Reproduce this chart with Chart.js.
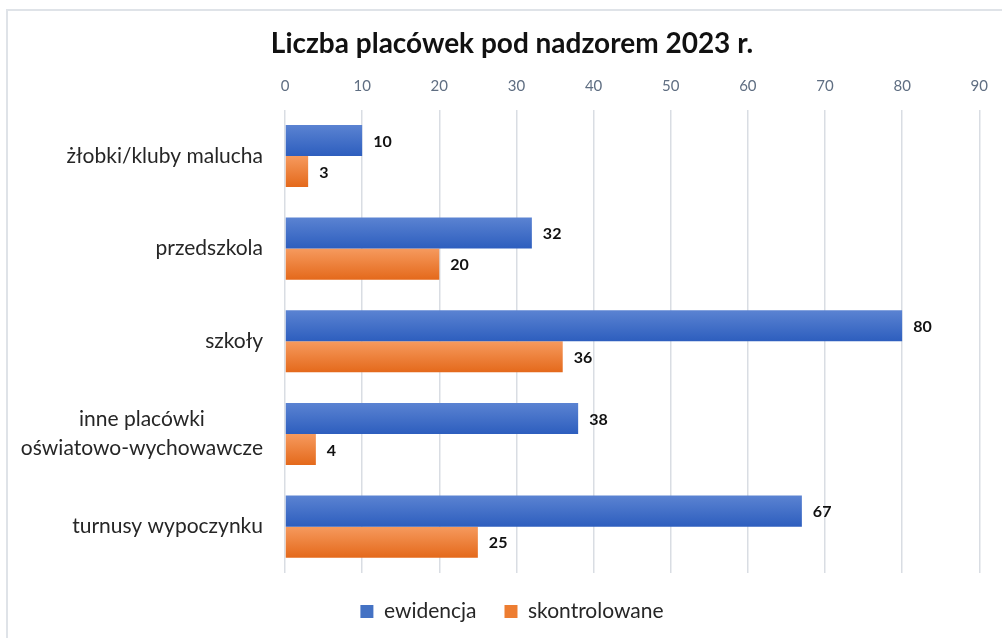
<!DOCTYPE html>
<html lang="pl">
<head>
<meta charset="utf-8">
<title>Liczba placówek pod nadzorem 2023 r.</title>
<script src="https://cdn.jsdelivr.net/npm/chart.js@4.4.1/dist/chart.umd.min.js"></script>
<style>
    html, body { margin: 0; padding: 0; background: #fff; }
    #wrap { position: relative; width: 1002px; height: 638px; overflow: hidden; }
    #frame {
        position: absolute; left: 6px; top: 9px; width: 1100px; height: 700px;
        border-left: 2px solid #dfe3e8; border-top: 2px solid #dfe3e8;
        pointer-events: none;
    }
    #chart { position: absolute; left: 0; top: 0; }
</style>
</head>
<body>
<div id="wrap">
    <div id="frame"></div>
    <canvas id="chart" width="1002" height="638"></canvas>
</div>
<script>
// ------------------ DONNÉES ------------------
const categories = [
    'żłobki/kluby malucha',
    'przedszkola',
    'szkoły',
    ['inne placówki', 'oświatowo-wychowawcze'],
    'turnusy wypoczynku'
];
const ewidencja = [10, 32, 80, 38, 67];
const skontrolowane = [3, 20, 36, 4, 25];
const xTicksMin = 0;
const xTicksMax = 90;
const xTicksStep = 10;

const FONT = 'Lato, "Open Sans", sans-serif';
const CAT_PCT = 0.67;
const PAD_LEFT = 22;
const PLOT_LEFT = 285;

// Dégradé vertical pour chaque barre (calculé depuis l'échelle y)
function barFill(topColor, bottomColor, datasetIdx) {
    return function (c) {
        const chart = c.chart;
        const y = chart.scales.y;
        if (c.dataIndex === undefined || !chart.chartArea || !y || y.height === undefined) return bottomColor;
        const center = y.getPixelForValue(c.dataIndex);
        const half = (y.height / categories.length) * CAT_PCT / 2;
        const y0 = datasetIdx === 0 ? center - half : center;
        const g = chart.ctx.createLinearGradient(0, y0, 0, y0 + half);
        g.addColorStop(0, topColor);
        g.addColorStop(1, bottomColor);
        return g;
    };
}

// Étiquettes de valeurs à droite des barres
const valueLabels = {
    id: 'valueLabels',
    afterDatasetsDraw(chart) {
        const ctx = chart.ctx;
        ctx.save();
        ctx.font = 'bold 16px ' + FONT;
        ctx.fillStyle = '#111';
        ctx.textAlign = 'left';
        ctx.textBaseline = 'middle';
        chart.data.datasets.forEach((ds, d) => {
            chart.getDatasetMeta(d).data.forEach((bar, i) => {
                ctx.fillText(ds.data[i], bar.x + 11, bar.y + 1);
            });
        });
        ctx.restore();
    }
};

// Libellés des catégories (lignes centrées entre elles, bloc aligné à droite)
const categoryLabels = {
    id: 'categoryLabels',
    afterDraw(chart) {
        const ctx = chart.ctx;
        const scale = chart.scales.y;
        const right = PLOT_LEFT - 22;
        const lh = 29;
        ctx.save();
        ctx.font = '21px ' + FONT;
        ctx.fillStyle = '#262626';
        ctx.textBaseline = 'middle';
        categories.forEach((label, i) => {
            const lines = Array.isArray(label) ? label : [label];
            const maxW = Math.max(...lines.map(l => ctx.measureText(l).width));
            const yc = scale.getPixelForTick(i);
            ctx.textAlign = 'center';
            lines.forEach((line, k) => {
                ctx.fillText(line, right - maxW / 2, yc - (lines.length - 1) * lh / 2 + k * lh);
            });
        });
        ctx.restore();
    }
};

const ctx = document.getElementById('chart').getContext('2d');
const chart = new Chart(ctx, {
    type: 'bar',
    data: {
        labels: categories,
        datasets: [{
            label: 'ewidencja',
            data: ewidencja,
            backgroundColor: barFill('#5b83d2', '#2d5ebe', 0),
            legendColor: '#4472c4',
            borderWidth: 0
        }, {
            label: 'skontrolowane',
            data: skontrolowane,
            backgroundColor: barFill('#f69a5e', '#e4691b', 1),
            legendColor: '#ed7d31',
            borderWidth: 0
        }]
    },
    options: {
        indexAxis: 'y',
        responsive: false,
        animation: false,
        devicePixelRatio: 1,
        categoryPercentage: CAT_PCT,
        barPercentage: 1,
        layout: { padding: { left: PAD_LEFT, right: 0, top: 0, bottom: 6 } },
        scales: {
            x: {
                position: 'top',
                min: xTicksMin,
                max: xTicksMax,
                ticks: {
                    stepSize: xTicksStep,
                    color: '#5f6e82',
                    font: { family: FONT, size: 15 },
                    padding: 14
                },
                grid: { color: '#d9dde3', lineWidth: 1.5, drawTicks: false },
                border: { display: false },
                afterFit(scale) { scale.height = 41; }
            },
            y: {
                ticks: { display: false },
                grid: { display: false },
                border: { display: false },
                afterFit(scale) { scale.width = PLOT_LEFT - PAD_LEFT; }
            },
            // axe vide à droite, juste pour la marge
            yRight: {
                type: 'category',
                position: 'right',
                ticks: { display: false },
                grid: { display: false },
                border: { display: false },
                afterFit(scale) { scale.width = 21; }
            }
        },
        plugins: {
            title: {
                display: true,
                text: 'Liczba placówek pod nadzorem 2023 r.',
                color: '#111',
                font: { family: FONT, size: 28, weight: 'bold' },
                padding: { top: 27, bottom: 8 }
            },
            legend: {
                position: 'bottom',
                labels: {
                    color: '#262626',
                    font: { family: FONT, size: 21 },
                    boxWidth: 13,
                    boxHeight: 13,
                    padding: 28,
                    generateLabels(chart) {
                        return Chart.defaults.plugins.legend.labels.generateLabels(chart).map((item, i) => {
                            item.fillStyle = chart.data.datasets[i].legendColor;
                            item.strokeStyle = chart.data.datasets[i].legendColor;
                            item.lineWidth = 0;
                            return item;
                        });
                    }
                }
            },
            tooltip: { enabled: false }
        }
    },
    plugins: [valueLabels, categoryLabels]
});
</script>
</body>
</html>
